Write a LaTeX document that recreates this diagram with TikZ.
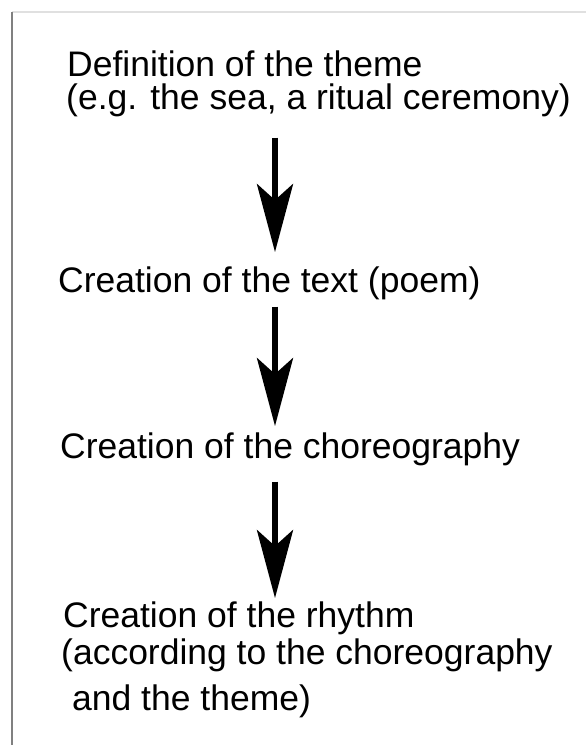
\documentclass[tikz,border=0pt]{standalone}
\usepackage{fontspec}
\setmainfont{Liberation Sans}
\usepackage{tikz}
\usetikzlibrary{arrows.meta}
\tikzset{
  steptext/.style = {
    font=\fontsize{35.5}{37}\selectfont, inner sep=0pt, anchor=base west
  },
  bigarrow/.style = {-{Stealth[length=68pt, width=36pt, inset=16pt]}, line width=6pt}
}

\begin{document}
\begin{tikzpicture}[x=1pt, y=-1pt]
  \useasboundingbox (0,0) rectangle (586,745);
  % Frame
  \draw[black!12, line width=1.5pt] (12,12) -- (586,12);
  \draw[black!50, line width=2.5pt] (12,12) -- (12,745);
  \coordinate (axis) at (275,0);

  % Steps
  \node[steptext] (theme1) at (67,76)  {Definition of the theme};
  \node[steptext] (theme2) at (66,109) {(e.g. the sea, a ritual ceremony)};
  \node[steptext] (poem)   at (58,292) {Creation of the text (poem)};
  \node[steptext] (chor)   at (60,458) {Creation of the choreography};
  \node[steptext] (rhythm1) at (63,627) {Creation of the rhythm};
  \node[steptext] (rhythm2) at (61,664) {(according to the choreography};
  \node[steptext] (rhythm3) at (72,710) {and the theme)};

  % Arrows
  \draw[bigarrow, shorten <=21pt, shorten >=14pt] (theme2.south -| axis) -- (poem.north -| axis);
  \draw[bigarrow, shorten <=7pt, shorten >=6pt] (poem.south -| axis) -- (chor.north -| axis);
  \draw[bigarrow, shorten <=16pt, shorten >=3pt] (chor.south -| axis) -- (rhythm1.north -| axis);
\end{tikzpicture}
\end{document}
